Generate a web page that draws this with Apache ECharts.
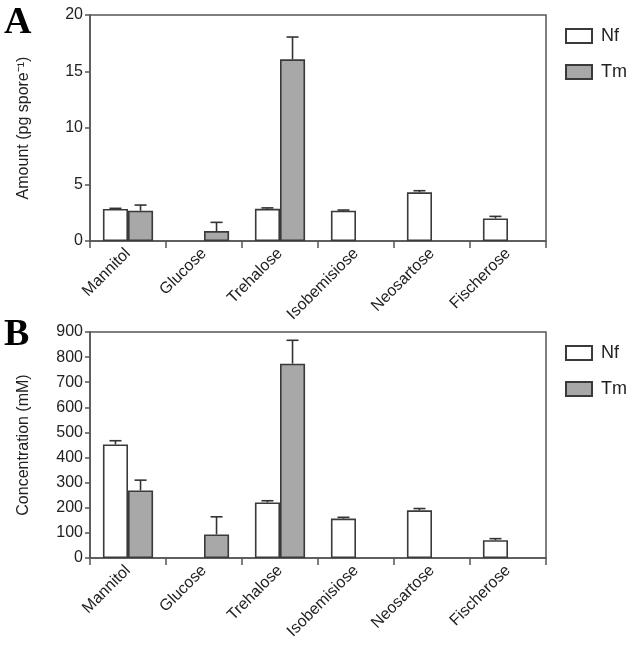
<!DOCTYPE html>
<html>
<head>
<meta charset="utf-8">
<script src="https://cdn.jsdelivr.net/npm/echarts@6/dist/echarts.min.js"></script>
<style>
html,body{margin:0;padding:0;background:#fff;}
#chart{width:634px;height:648px;}
</style>
</head>
<body>
<div id="chart"></div>
<script>
// ---- data ----
var categories = ['Mannitol', 'Glucose', 'Trehalose', 'Isobemisiose', 'Neosartose', 'Fischerose'];
var seriesNames = ['Nf', 'Tm'];

// Panel A: Amount (pg spore-1)
var amountNf    = [2.83, null, 2.85, 2.68, 4.31, 2.0];
var amountNfErr = [0.06, null, 0.08, 0.06, 0.14, 0.18];
var amountTm    = [2.68, 0.88, 16.08, null, null, null];
var amountTmErr = [0.5, 0.77, 1.97, null, null, null];
var amountTicks = {min: 0, max: 20, interval: 5};

// Panel B: Concentration (mM)
var concNf    = [452, null, 221, 157, 190, 71];
var concNfErr = [15, null, 7, 5, 7, 6];
var concTm    = [269, 94, 774, null, null, null];
var concTmErr = [41, 70, 93, null, null, null];
var concTicks = {min: 0, max: 900, interval: 100};

// ---- styles ----
var axisColor = '#555';
var textColor = '#222';
var font = '"Liberation Sans", Arial, sans-serif';
var nfColor = '#ffffff';
var tmColor = '#a8a8a8';
var barBorder = '#3a3a3a';

function toBarData(arr) {
  return arr.map(function (v) { return v == null ? '-' : v; });
}
function toErrData(vals, errs) {
  var out = [];
  for (var i = 0; i < vals.length; i++) {
    if (vals[i] != null && errs[i] != null) out.push([i, vals[i], errs[i]]);
  }
  return out;
}
function errSeries(name, idx, vals, errs, side) {
  return {
    type: 'custom',
    name: name + ' err',
    xAxisIndex: idx, yAxisIndex: idx,
    z: 5,
    silent: true,
    encode: {x: 0, y: 1},
    data: toErrData(vals, errs),
    renderItem: function (params, api) {
      var c = api.value(0), v = api.value(1), e = api.value(2);
      var catW = api.size([1, 0])[0];
      var bw = catW * 0.33;
      var p0 = api.coord([c, v]);
      var p1 = api.coord([c, v + e]);
      var x = p0[0] + side * bw / 2;
      var cap = 12;
      return {
        type: 'group',
        children: [
          {type: 'line', shape: {x1: x, y1: p0[1], x2: x, y2: p1[1]},
           style: {stroke: '#333', lineWidth: 1.6}},
          {type: 'line', shape: {x1: x - cap / 2, y1: p1[1], x2: x + cap / 2, y2: p1[1]},
           style: {stroke: '#333', lineWidth: 1.6}}
        ]
      };
    }
  };
}

var grids = [
  {left: 90, top: 15, width: 456, height: 226, show: true, borderColor: axisColor, borderWidth: 1.5, backgroundColor: 'transparent'},
  {left: 90, top: 332, width: 456, height: 226, show: true, borderColor: axisColor, borderWidth: 1.5, backgroundColor: 'transparent'}
];

function xAxis(idx) {
  return {
    type: 'category', gridIndex: idx, data: categories,
    axisLine: {lineStyle: {color: axisColor, width: 1.5}},
    axisTick: {show: true, length: 7, alignWithLabel: false, lineStyle: {color: axisColor, width: 1.5}},
    axisLabel: {rotate: 45, interval: 0, margin: 10, color: textColor, fontFamily: font, fontSize: 16}
  };
}
function yAxis(idx, ticks, name) {
  return {
    type: 'value', gridIndex: idx, min: ticks.min, max: ticks.max, interval: ticks.interval,
    name: name, nameLocation: 'middle', nameGap: 58,
    nameTextStyle: {color: textColor, fontFamily: font, fontSize: 16},
    axisLine: {show: true, lineStyle: {color: axisColor, width: 1.5}},
    axisTick: {show: true, length: 5, lineStyle: {color: axisColor, width: 1.5}},
    axisLabel: {color: textColor, fontFamily: font, fontSize: 16, margin: 7},
    splitLine: {show: false}
  };
}
function barSeries(name, idx, vals, color) {
  return {
    type: 'bar', name: name, xAxisIndex: idx, yAxisIndex: idx,
    data: toBarData(vals), barWidth: '33%', barGap: '0%',
    itemStyle: {color: color, borderColor: barBorder, borderWidth: 1.6},
    emphasis: {disabled: true}
  };
}
function legend(top) {
  return {
    data: seriesNames, orient: 'vertical', left: 560, top: top,
    itemWidth: 26, itemHeight: 14, itemGap: 18, icon: 'rect',
    textStyle: {color: textColor, fontFamily: font, fontSize: 18, padding: [0, 0, 0, 4]},
    selectedMode: false
  };
}

var option = {
  animation: false,
  backgroundColor: '#fff',
  grid: grids,
  xAxis: [xAxis(0), xAxis(1)],
  yAxis: [yAxis(0, amountTicks, 'Amount (pg spore\u207B\u00B9)'), yAxis(1, concTicks, 'Concentration (mM)')],
  legend: [legend(22), legend(339)],
  graphic: [
    {type: 'text', left: 4, top: 4, style: {text: 'A', font: 'bold 38px "Liberation Serif", "Times New Roman", serif', fill: '#000'}},
    {type: 'text', left: 4, top: 316, style: {text: 'B', font: 'bold 38px "Liberation Serif", "Times New Roman", serif', fill: '#000'}}
  ],
  series: [
    barSeries('Nf', 0, amountNf, nfColor),
    barSeries('Tm', 0, amountTm, tmColor),
    errSeries('Nf', 0, amountNf, amountNfErr, -1),
    errSeries('Tm', 0, amountTm, amountTmErr, 1),
    barSeries('Nf', 1, concNf, nfColor),
    barSeries('Tm', 1, concTm, tmColor),
    errSeries('Nf', 1, concNf, concNfErr, -1),
    errSeries('Tm', 1, concTm, concTmErr, 1)
  ]
};

var chart = echarts.init(document.getElementById('chart'), null, {renderer: 'canvas'});
chart.setOption(option);
</script>
</body>
</html>
